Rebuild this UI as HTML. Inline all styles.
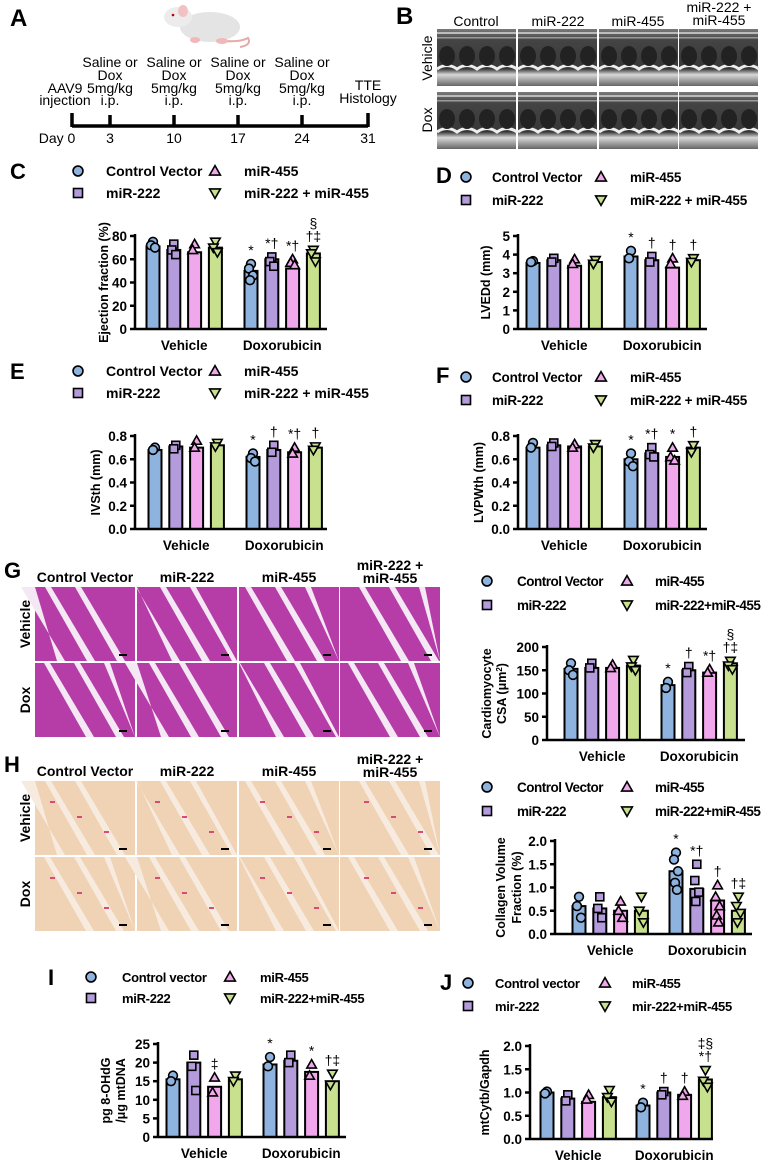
<!DOCTYPE html>
<html><head><meta charset="utf-8"><style>
html,body{margin:0;padding:0;background:#fff;}
svg{display:block;font-family:"Liberation Sans",Arial,sans-serif;}
.b{font-weight:bold;}
</style></head><body>
<svg id="fig" width="767" height="1162" viewBox="0 0 767 1162" xmlns="http://www.w3.org/2000/svg">
<defs>
<linearGradient id="echoG" x1="0" y1="0" x2="0" y2="1">
<stop offset="0" stop-color="#7a7a7a"/><stop offset="0.2" stop-color="#444"/><stop offset="0.7" stop-color="#383838"/><stop offset="0.8" stop-color="#d8d8d8"/><stop offset="1" stop-color="#666"/>
</linearGradient>
</defs>
<!-- Panel A -->
<g>
<text x="10" y="26" font-size="24" class="b">A</text>
<g>
<path d="M200 37 Q235 45 248 38 Q252 45 240 47" stroke="#e8a8a8" stroke-width="2" fill="none"/>
<ellipse cx="210" cy="27" rx="30" ry="15" fill="#e4e4e4"/>
<ellipse cx="178" cy="17" rx="14" ry="10" fill="#ececec"/>
<ellipse cx="183" cy="11" rx="5" ry="6" fill="#f2c2c2"/>
<circle cx="173" cy="15" r="1.3" fill="#b00"/>
<ellipse cx="195" cy="40" rx="5" ry="3" fill="#f0b8b8"/>
<ellipse cx="222" cy="41" rx="6" ry="3" fill="#f0b8b8"/>
</g>
<g font-size="14" text-anchor="middle" fill="#000">
<text x="110" y="67">Saline or</text><text x="110" y="80">Dox</text><text x="110" y="93">5mg/kg</text><text x="110" y="105">i.p.</text>
<text x="174" y="67">Saline or</text><text x="174" y="80">Dox</text><text x="174" y="93">5mg/kg</text><text x="174" y="105">i.p.</text>
<text x="238" y="67">Saline or</text><text x="238" y="80">Dox</text><text x="238" y="93">5mg/kg</text><text x="238" y="105">i.p.</text>
<text x="302" y="67">Saline or</text><text x="302" y="80">Dox</text><text x="302" y="93">5mg/kg</text><text x="302" y="105">i.p.</text>
<text x="65" y="93">AAV9</text><text x="65" y="105">injection</text>
<text x="368" y="90">TTE</text><text x="368" y="103">Histology</text>
<text x="57" y="143">Day 0</text><text x="110" y="143">3</text><text x="174" y="143">10</text><text x="238" y="143">17</text><text x="302" y="143">24</text><text x="368" y="143">31</text>
</g>
<g stroke="#000" stroke-width="3.5">
<line x1="72" y1="126" x2="368" y2="126"/>
<line x1="72" y1="113" x2="72" y2="127"/><line x1="110" y1="115" x2="110" y2="127"/><line x1="174" y1="115" x2="174" y2="127"/><line x1="238" y1="115" x2="238" y2="127"/><line x1="302" y1="115" x2="302" y2="127"/><line x1="368" y1="113" x2="368" y2="127"/>
</g>
</g>
<!-- Panel B -->
<g>
<text x="396" y="24" font-size="24" class="b">B</text>
<g font-size="14" text-anchor="middle">
<text x="476" y="26">Control</text><text x="558" y="26">miR-222</text><text x="638" y="26">miR-455</text>
<text x="719" y="12">miR-222 +</text><text x="719" y="25">miR-455</text>
</g>
<text transform="translate(432,58) rotate(-90)" font-size="14" text-anchor="middle">Vehicle</text>
<text transform="translate(432,120) rotate(-90)" font-size="14" text-anchor="middle">Dox</text>
<g id="echoImgs"></g>
</g>
<g id="histo"></g>
<g id="charts"></g>
<g id="legends"></g>
<g font-size="22" class="b">
<text x="10" y="179">C</text>
<text x="436" y="183">D</text>
<text x="10" y="379">E</text>
<text x="436" y="383">F</text>
<text x="4" y="578">G</text>
<text x="4" y="772">H</text>
<text x="48" y="985">I</text>
<text x="440" y="990">J</text>
</g>
</svg>
<script>
// ---- Chart data ----
const groups = ["Vehicle", "Doxorubicin"];
const series = ["Control Vector", "miR-222", "miR-455", "miR-222 + miR-455"];
const cVals = [71, 68, 66, 70, 50, 60, 52, 65];
const cPts = [[75,72,70],[73,68,64],[73,68],[75,70,66],[56,52,46,42],[62,58,54],[60,57,55],[68,65,58]];
const cSig = [[],[],[],[],["*"],["*†"],["*†"],["†‡","§"]];
const dVals = [3.55, 3.7, 3.4, 3.6, 3.9, 3.7, 3.3, 3.7];
const dPts = [[3.65,3.6],[3.8,3.6],[3.75,3.5],[3.7,3.5],[4.2,3.8],[3.9,3.6],[3.8,3.5],[3.8,3.6]];
const dSig = [[],[],[],[],["*"],["†"],["†"],["†"]];
const eVals = [0.68, 0.71, 0.70, 0.72, 0.62, 0.68, 0.66, 0.70];
const ePts = [[0.70,0.68],[0.72,0.69],[0.76,0.70],[0.74,0.71],[0.65,0.61,0.58],[0.72,0.66],[0.70,0.65],[0.71,0.68]];
const eSig = [[],[],[],[],["*"],["†"],["*†"],["†"]];
const fVals = [0.70, 0.72, 0.71, 0.71, 0.60, 0.65, 0.62, 0.70];
const fPts = [[0.74,0.70],[0.74,0.71],[0.73,0.70],[0.73,0.70],[0.65,0.58,0.54],[0.70,0.64,0.62],[0.70,0.62,0.59],[0.72,0.66]];
const fSig = [[],[],[],[],["*"],["*†"],["*"],["†"]];
const gVals = [153, 155, 155, 160, 118, 150, 145, 165];
const gPts = [[165,150,140],[165,155],[162,155],[172,158,150],[125,112],[158,145],[152,145],[170,160,152]];
const gSig = [[],[],[],[],["*"],["†"],["*†"],["†‡","§"]];
const hVals = [0.6, 0.55, 0.5, 0.5, 1.35, 0.97, 0.72, 0.5];
const hPts = [[0.8,0.6,0.35],[0.8,0.55,0.35],[0.7,0.5,0.35],[0.8,0.5,0.25],[1.75,1.6,1.35,1.1,0.95],[1.5,1.15,0.9,0.7],[1.05,0.8,0.6,0.4,0.25],[0.8,0.6,0.45,0.25]];
const hSig = [[],[],[],[],["*"],["*†"],["†"],["†‡"]];
const iVals = [15.5, 20, 13.5, 15.5, 19.5, 20.5, 17.5, 15];
const iPts = [[16.5,15],[22,19,12.5],[16,12],[16.5,15],[21.5,19],[22,20],[19.5,16.5],[17,14]];
const iSig = [[],[],["‡"],[],["*"],[],["*"],["†‡"]];
const jVals = [1.0, 0.87, 0.8, 0.9, 0.72, 1.0, 0.95, 1.28];
const jPts = [[1.02,0.98],[0.95,0.82],[0.95,0.85],[1.05,0.9,0.8],[0.78,0.68],[1.02,0.95],[1.02,0.93],[1.48,1.25,1.12]];
const jSig = [[],[],[],[],["*"],["†"],["†"],["*†","‡§"]];

const cols = ["#8fb3df", "#b49cdc", "#f1a7eb", "#c8e18f"];
const NS = "http://www.w3.org/2000/svg";
function mk(tag, attrs, parent) {
  const e = document.createElementNS(NS, tag);
  for (const k in attrs) e.setAttribute(k, attrs[k]);
  if (parent) parent.appendChild(e);
  return e;
}
function marker(parent, k, x, y, s) {
  let e;
  if (k === 0) e = mk("circle", {cx:x, cy:y, r:s*0.55}, parent);
  else if (k === 1) e = mk("rect", {x:x-s/2, y:y-s/2, width:s, height:s}, parent);
  else if (k === 2) e = mk("polygon", {points:`${x},${y-s*0.6} ${x-s*0.6},${y+s*0.45} ${x+s*0.6},${y+s*0.45}`}, parent);
  else e = mk("polygon", {points:`${x},${y+s*0.6} ${x-s*0.6},${y-s*0.45} ${x+s*0.6},${y-s*0.45}`}, parent);
  e.setAttribute("fill", cols[k]); e.setAttribute("stroke", "#000"); e.setAttribute("stroke-width", "1.6");
  
  
  return e;
}
function chart(o) {
  const root = document.getElementById("charts");
  const g = mk("g", {}, root);
  
  
  const Y = v => o.y0 - v * (o.y0 - o.top) / o.ymax;
  const sp = 20.8;
  for (let i = 0; i < 8; i++) {
    const cx = i < 4 ? o.c1 + i * sp : o.c2 + (i - 4) * sp;
    const k = i % 4;
    const bar = mk("rect", {x:cx-6.5, y:Y(o.vals[i]), width:13, height:o.y0-Y(o.vals[i]), fill:cols[k], stroke:"#000", "stroke-width":2}, g);
    
    
    let maxY = Y(o.vals[i]);
    o.pts[i].forEach((p, j) => {
      const jx = [0, -2, 2, -1, 1][j % 5];
      marker(g, k, cx + jx, Y(p), 8);
      maxY = Math.min(maxY, Y(p) - 4);
    });
    o.sig[i].forEach((s, j) => {
      const t = mk("text", {x:cx, y:maxY - 5 - j * 13, "font-size":14, "text-anchor":"middle"}, g);
      t.textContent = s;
      
      
    });
  }
  mk("line", {x1:o.ax, y1:o.top-2, x2:o.ax, y2:o.y0, stroke:"#000", "stroke-width":2.5}, g);
  const xl = mk("line", {x1:o.ax, y1:o.y0, x2:o.end, y2:o.y0, stroke:"#000", "stroke-width":2.5}, g);
  
  
  o.ticks.forEach(t => {
    mk("line", {x1:o.ax-5, y1:Y(t), x2:o.ax, y2:Y(t), stroke:"#000", "stroke-width":2.5}, g);
    const tx = mk("text", {x:o.ax-8, y:Y(t)+5, "font-size":13.5, "font-weight":"bold", "text-anchor":"end"}, g);
    tx.textContent = t.toFixed(o.dec);
    
    
  });
  [o.c1 + 1.5*sp, o.c2 + 1.5*sp].forEach((cx, j) => {
    const t = mk("text", {x:cx, y:o.y0+21, "font-size":13.5, "font-weight":"bold", "text-anchor":"middle"}, g);
    t.textContent = groups[j];
    
    
  });
  o.ylab.forEach((l, j) => {
    const cy = (o.y0 + o.top) / 2;
    const x = o.ylx[j];
    const t = mk("text", {transform:`translate(${x},${cy}) rotate(-90)`, "font-size":12.5, "font-weight":"bold", "text-anchor":"middle"}, g);
    t.innerHTML = l;
    
    
  });
}
chart({name:"ejection-fraction-chart", ax:135, y0:329, top:236, ymax:80, ticks:[0,20,40,60,80], dec:0, c1:153, c2:251, end:327, vals:cVals, pts:cPts, sig:cSig, ylab:["Ejection fraction (%)"], ylx:[108]});
chart({name:"lvedd-chart", ax:518, y0:329, top:236, ymax:5, ticks:[0,1,2,3,4,5], dec:0, c1:533, c2:631, end:707, vals:dVals, pts:dPts, sig:dSig, ylab:["LVEDd (mm)"], ylx:[490]});
chart({name:"ivsth-chart", ax:135, y0:529, top:436, ymax:0.8, ticks:[0,0.2,0.4,0.6,0.8], dec:1, c1:155, c2:253, end:327, vals:eVals, pts:ePts, sig:eSig, ylab:["IVSth (mm)"], ylx:[100]});
chart({name:"lvpwth-chart", ax:518, y0:529, top:436, ymax:0.8, ticks:[0,0.2,0.4,0.6,0.8], dec:1, c1:533, c2:631, end:707, vals:fVals, pts:fPts, sig:fSig, ylab:["LVPWth (mm)"], ylx:[483]});
chart({name:"cardiomyocyte-csa-chart", ax:547, y0:740, top:647, ymax:200, ticks:[0,50,100,150,200], dec:0, c1:571, c2:668, end:745, vals:gVals, pts:gPts, sig:gSig, ylab:["Cardiomyocyte", "CSA (μm<tspan baseline-shift='super' font-size='8'>2</tspan>)"], ylx:[491, 506]});
chart({name:"collagen-volume-chart", ax:555, y0:934, top:841, ymax:2, ticks:[0,0.5,1,1.5,2], dec:1, c1:579, c2:676, end:752, vals:hVals, pts:hPts, sig:hSig, ylab:["Collagen Volume", "Fraction (%)"], ylx:[505, 521]});
chart({name:"8-ohdg-chart", ax:158, y0:1137, top:1044, ymax:25, ticks:[0,5,10,15,20,25], dec:0, c1:173, c2:270, end:346, vals:iVals, pts:iPts, sig:iSig, ylab:["pg 8-OHdG", "/μg mtDNA"], ylx:[110, 125]});
chart({name:"mtcytb-chart", ax:530, y0:1139, top:1046, ymax:2, ticks:[0,0.5,1,1.5,2], dec:1, c1:547, c2:643, end:713, vals:jVals, pts:jPts, sig:jSig, ylab:["mtCytb/Gapdh"], ylx:[489]});

// ---- Legends ----
function legend(name, x0, xt, x2, xt2, r1, r2, labels, fs, ls) {
  const g = mk("g", {}, document.getElementById("legends"));
  
  
  const pos = [[x0, xt, r1], [x0, xt, r2], [x2, xt2, r1], [x2, xt2, r2]];
  pos.forEach((p, k) => {
    marker(g, k, p[0], p[2], 9);
    const t = mk("text", {x:p[1], y:p[2]+5, "font-size":fs, "font-weight":"bold", "letter-spacing":ls||0}, g);
    t.textContent = labels[k];
    
    
  });
}
const L1 = ["Control Vector", "miR-222", "miR-455", "miR-222 + miR-455"];
const L2 = ["Control Vector", "miR-222", "miR-455", "miR-222+miR-455"];
legend("legend-c", 78, 106, 215, 244, 171, 193, L1, 14);
legend("legend-d", 466, 492, 601, 630, 177, 200, L1, 13.5, -0.2);
legend("legend-e", 78, 106, 215, 244, 371, 393, L1, 14);
legend("legend-f", 466, 492, 601, 630, 377, 400, L1, 13.5, -0.2);
legend("legend-g", 487, 517, 627, 655, 581, 605, L2, 13.5, -0.5);
legend("legend-h", 487, 517, 627, 655, 787, 811, L2, 13.5, -0.5);
legend("legend-i", 91, 122, 230, 260, 977, 998, ["Control vector","miR-222","miR-455","miR-222+miR-455"], 13, -0.3);
legend("legend-j", 468, 495, 605, 632, 983, 1006, ["Control vector","mir-222","miR-455","mir-222+miR-455"], 13, -0.3);

// ---- Echo images ----
(function(){
  const g = document.getElementById("echoImgs");
  const xs = [437, 518, 599, 679], ys = [29, 92];
  ys.forEach((y, r) => xs.forEach((x, c) => {
    const im = mk("g", {}, g);
    
    
    mk("rect", {x:x, y:y, width:79, height:57, fill:"url(#echoG)"}, im);
    mk("rect", {x:x, y:y+3, width:79, height:2, fill:"#bbb"}, im);
    mk("rect", {x:x, y:y+8, width:79, height:1.5, fill:"#999"}, im);
    let d = `M${x} ${y+40}`;
    for (let k = 0; k < 4; k++) d += ` q10 -7 20 0`;
    mk("path", {d:d, stroke:"#eee", "stroke-width":3, fill:"none"}, im);
    for (let k = 0; k < 4; k++) mk("ellipse", {cx:x+10+k*20, cy:y+27, rx:8, ry:10, fill:"#222"}, im);
  }));
})();

// ---- Histology images ----
(function(){
  const root = document.getElementById("histo");
  function panel(name, top, bg, streak, accent, labels) {
    const g = mk("g", {}, root);
    
    
    const xs = [35, 137, 239, 340], w = 100;
    const lab = [[85, 582, labels[0]], [187, 582, labels[1]], [289, 582, labels[2]]];
    lab.forEach(l => { const t = mk("text", {x:l[0], y:top+l[1]-587, "font-size":14, "font-weight":"bold", "text-anchor":"middle"}, g); t.textContent = l[2]; });
    let t = mk("text", {x:390, y:top-17, "font-size":14, "font-weight":"bold", "text-anchor":"middle"}, g); t.textContent = "miR-222 +";
    t = mk("text", {x:390, y:top-4, "font-size":14, "font-weight":"bold", "text-anchor":"middle"}, g); t.textContent = "miR-455";
    t = mk("text", {transform:`translate(30,${top+37}) rotate(-90)`, "font-size":14, "font-weight":"bold", "text-anchor":"middle"}, g); t.textContent = "Vehicle";
    t = mk("text", {transform:`translate(30,${top+113}) rotate(-90)`, "font-size":14, "font-weight":"bold", "text-anchor":"middle"}, g); t.textContent = "Dox";
    [top, top+76].forEach((y, r) => xs.forEach((x, c) => {
      const im = mk("g", {}, g);
      
      
      mk("rect", {x:x, y:y, width:w, height:74, fill:bg}, im);
      const off = (c * 13 + r * 29) % 40;
      for (let k = 0; k < 3; k++) {
        const sx = x + off + k * 30;
        mk("polygon", {points:`${Math.max(x,sx-20)},${y} ${Math.min(x+w,sx-14)},${y} ${Math.min(x+w,sx+30)},${y+74} ${Math.min(x+w,sx+22)},${y+74}`, fill:streak}, im);
      }
      if (accent) for (let k = 0; k < 3; k++) mk("rect", {x:x+15+k*27+c*3, y:y+20+k*15, width:5, height:2, fill:accent}, im);
      mk("rect", {x:x+w-16, y:y+67, width:8, height:2, fill:"#000"}, im);
    }));
  }
  panel("he-stain-images", 587, "#b63ca8", "#f5e8f5", null, ["Control Vector", "miR-222", "miR-455"]);
  panel("sirius-red-images", 781, "#efd3b4", "#f7ebe0", "#d84a78", ["Control Vector", "miR-222", "miR-455"]);
})();
</script>
</body></html>
